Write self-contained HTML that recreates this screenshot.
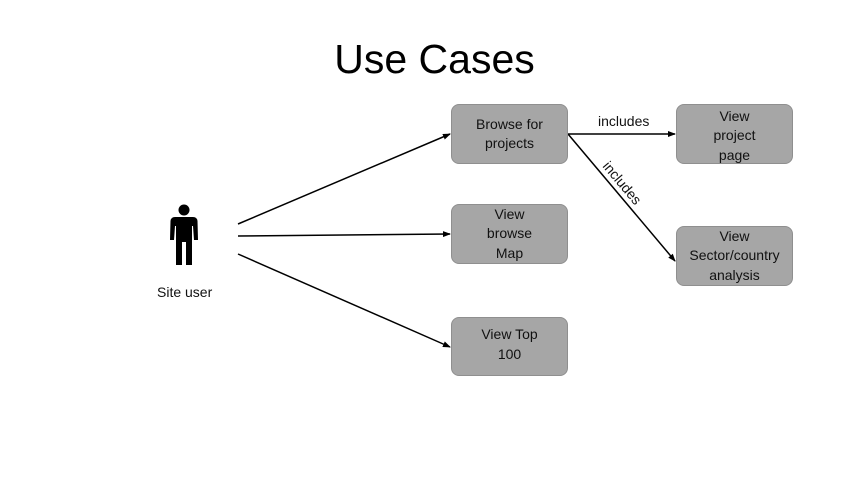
<!DOCTYPE html>
<html><head><meta charset="utf-8"><style>
html,body{margin:0;padding:0;background:#fff;}
body{width:853px;height:480px;position:relative;overflow:hidden;font-family:"Liberation Sans",sans-serif;}
.t{position:absolute;left:8px;width:853px;top:36px;text-align:center;font-size:41px;color:#000;}
.b{position:absolute;box-sizing:border-box;background:#a6a6a6;border:1px solid #8f8f8f;border-radius:8px;display:flex;align-items:center;justify-content:center;text-align:center;font-size:14px;line-height:19.5px;color:#111;}
.l{position:absolute;font-size:14px;color:#111;}
</style></head><body>
<div class="t">Use Cases</div>
<svg width="853" height="480" style="position:absolute;left:0;top:0">
<defs><marker id="a" markerWidth="8" markerHeight="6" refX="7" refY="3" orient="auto" markerUnits="userSpaceOnUse"><path d="M0,0 L8,3 L0,6 z" fill="#000"/></marker></defs>
<g stroke="#000" stroke-width="1.5" fill="none">
<line x1="238" y1="224" x2="450" y2="134" marker-end="url(#a)"/>
<line x1="238" y1="236" x2="450" y2="234" marker-end="url(#a)"/>
<line x1="238" y1="254" x2="450" y2="347" marker-end="url(#a)"/>
<line x1="568" y1="134" x2="675" y2="134" marker-end="url(#a)"/>
<line x1="568" y1="134" x2="675" y2="261" marker-end="url(#a)"/>
</g>
<circle cx="184" cy="210" r="5.5" fill="#000"/>
<path d="M175,217 L193,217 Q197,217 197.5,221 L198,240 L194,240 L193,226 L192,226 L192,265 L186,265 L186,242 L182,242 L182,265 L176,265 L176,226 L175,226 L174,240 L170,240 L170.5,221 Q171,217 175,217 z" fill="#000"/>
</svg>
<div class="l" style="left:157px;top:284px">Site user</div>
<div class="l" style="left:598px;top:113px">includes</div>
<div class="l" style="transform:rotate(50deg);transform-origin:0 0;left:612px;top:158px">includes</div>
<div class="b" style="left:451px;top:104px;width:117px;height:60px">Browse for<br>projects</div>
<div class="b" style="left:451px;top:204px;width:117px;height:60px">View<br>browse<br>Map</div>
<div class="b" style="left:451px;top:317px;width:117px;height:59px;padding-bottom:4px">View Top<br>100</div>
<div class="b" style="left:676px;top:104px;width:117px;height:60px;padding-top:4px">View<br>project<br>page</div>
<div class="b" style="left:676px;top:226px;width:117px;height:60px">View<br>Sector/country<br>analysis</div>
</body></html>
